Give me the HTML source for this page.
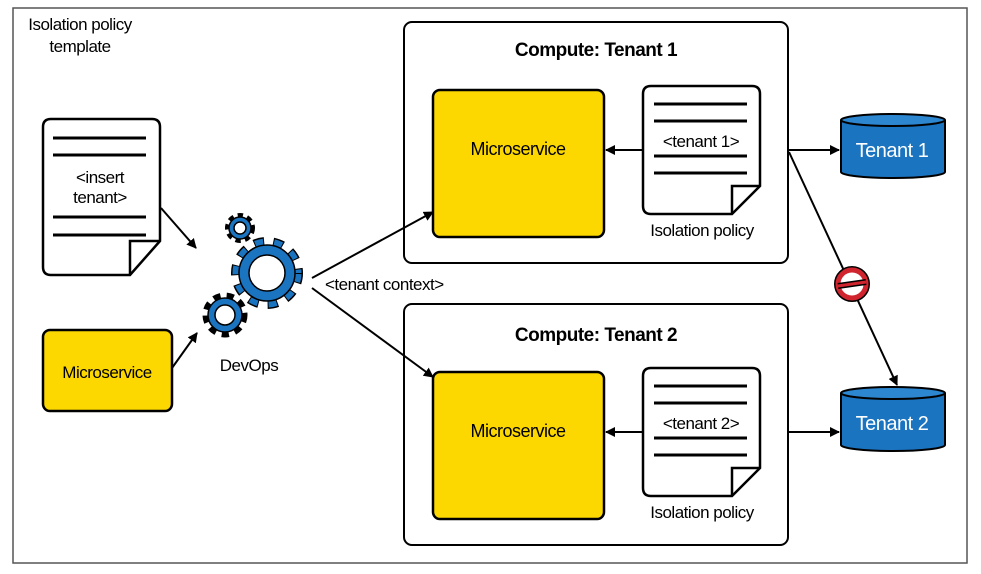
<!DOCTYPE html>
<html><head><style>body{margin:0;background:#fff}svg{display:block}text{font-family:"Liberation Sans",sans-serif}</style></head><body>
<svg width="981" height="574" viewBox="0 0 981 574" xmlns="http://www.w3.org/2000/svg">
<defs><marker id="a" markerWidth="10" markerHeight="10" refX="9" refY="5" orient="auto" markerUnits="userSpaceOnUse"><path d="M0,0 L10,5 L0,10 z" fill="#000"/></marker></defs>
<rect x="13" y="8" width="954" height="555" fill="#fff" stroke="#555" stroke-width="1.5"/>
<text x="80" y="30" font-size="17" text-anchor="middle" letter-spacing="-0.5">Isolation policy</text>
<text x="80" y="52" font-size="17" text-anchor="middle" letter-spacing="-0.5">template</text>
<!-- left doc -->
<path d="M51,119 H152 Q160,119 160,127 V241 L130,275 H51 Q43,275 43,267 V127 Q43,119 51,119 Z" fill="#fff" stroke="#000" stroke-width="2.5"/>
<path d="M130,275 V241 H160" fill="none" stroke="#000" stroke-width="2.5"/>
<g stroke="#000" stroke-width="3"><line x1="53" y1="138" x2="146" y2="138"/><line x1="53" y1="155" x2="146" y2="155"/><line x1="53" y1="217" x2="146" y2="217"/><line x1="53" y1="235" x2="146" y2="235"/></g>
<text x="100" y="183" font-size="17" text-anchor="middle" letter-spacing="-0.5">&lt;insert</text>
<text x="100" y="203" font-size="17" text-anchor="middle" letter-spacing="-0.5">tenant&gt;</text>
<rect x="43" y="330" width="129" height="81" rx="7" fill="#fcd800" stroke="#000" stroke-width="2.5"/>
<text x="107" y="378" font-size="17" text-anchor="middle" letter-spacing="-0.5">Microservice</text>
<line x1="161" y1="208" x2="196" y2="248" stroke="#000" stroke-width="2" marker-end="url(#a)"/>
<line x1="172" y1="368" x2="197" y2="333" stroke="#000" stroke-width="2" marker-end="url(#a)"/>
<!-- gears -->
<g fill="#1b74c0" stroke="#000" stroke-width="1.5">
<circle cx="267" cy="273" r="31" fill="none" stroke="#000" stroke-width="10" stroke-dasharray="10 9"/>
<circle cx="267" cy="273" r="31" fill="none" stroke="#1b74c0" stroke-width="7" stroke-dasharray="8 11" stroke-dashoffset="-1"/>
<circle cx="267" cy="273" r="28"/><circle cx="267" cy="273" r="18" fill="#fff"/>
<circle cx="240" cy="228" r="12" fill="none" stroke="#000" stroke-width="6" stroke-dasharray="5 4"/>
<circle cx="240" cy="228" r="11"/><circle cx="240" cy="228" r="6" fill="#fff"/>
<circle cx="225" cy="315" r="19" fill="none" stroke="#000" stroke-width="7" stroke-dasharray="7 6"/>
<circle cx="225" cy="315" r="17"/><circle cx="225" cy="315" r="10" fill="#fff"/>
</g>
<text x="249" y="371" font-size="17" text-anchor="middle" letter-spacing="-0.5">DevOps</text>
<text x="325" y="290" font-size="17" letter-spacing="-0.5">&lt;tenant context&gt;</text>
<!-- compute boxes -->
<g id="c">
<rect x="404" y="22" width="384" height="241" rx="8" fill="#fff" stroke="#000" stroke-width="2"/>
<rect x="433" y="90" width="171" height="147" rx="7" fill="#fcd800" stroke="#000" stroke-width="2.5"/>
<path d="M651,86 H752 Q760,86 760,94 V186 L732,214 H651 Q643,214 643,206 V94 Q643,86 651,86 Z" fill="#fff" stroke="#000" stroke-width="2.5"/>
<path d="M732,214 V186 H760" fill="none" stroke="#000" stroke-width="2.5"/>
<g stroke="#000" stroke-width="3"><line x1="654" y1="104" x2="747" y2="104"/><line x1="654" y1="121" x2="747" y2="121"/><line x1="654" y1="156" x2="747" y2="156"/><line x1="654" y1="173" x2="747" y2="173"/></g>
<line x1="643" y1="150" x2="606" y2="150" stroke="#000" stroke-width="2" marker-end="url(#a)"/>
<text x="518" y="155" font-size="18" text-anchor="middle" letter-spacing="-0.5">Microservice</text>
</g>
<use href="#c" transform="translate(0,282)"/>
<line x1="312" y1="278" x2="433" y2="212" stroke="#000" stroke-width="2" marker-end="url(#a)"/>
<line x1="312" y1="288" x2="433" y2="377" stroke="#000" stroke-width="2" marker-end="url(#a)"/>
<text x="596" y="56" font-size="19" font-weight="bold" text-anchor="middle" letter-spacing="-0.5">Compute: Tenant 1</text>
<text x="596" y="341" font-size="19" font-weight="bold" text-anchor="middle" letter-spacing="-0.5">Compute: Tenant 2</text>
<text x="701" y="147" font-size="17" text-anchor="middle" letter-spacing="-0.5">&lt;tenant 1&gt;</text>
<text x="701" y="429" font-size="17" text-anchor="middle" letter-spacing="-0.5">&lt;tenant 2&gt;</text>
<text x="702" y="236" font-size="17" text-anchor="middle" letter-spacing="-0.5">Isolation policy</text>
<text x="702" y="518" font-size="17" text-anchor="middle" letter-spacing="-0.5">Isolation policy</text>
<!-- cylinders -->
<g stroke="#000" stroke-width="2">
<path d="M841,120 V172 A52,6 0 0 0 945,172 V120" fill="#1b74c0"/><ellipse cx="893" cy="120" rx="52" ry="6" fill="#2d86d0"/>
<path d="M841,393 V445 A52,6 0 0 0 945,445 V393" fill="#1b74c0"/><ellipse cx="893" cy="393" rx="52" ry="6" fill="#2d86d0"/>
</g>
<text x="892" y="157" font-size="20" fill="#fff" text-anchor="middle" letter-spacing="-0.5">Tenant 1</text>
<text x="892" y="430" font-size="20" fill="#fff" text-anchor="middle" letter-spacing="-0.5">Tenant 2</text>
<line x1="789" y1="150" x2="839" y2="150" stroke="#000" stroke-width="2" marker-end="url(#a)"/>
<line x1="789" y1="432" x2="839" y2="432" stroke="#000" stroke-width="2" marker-end="url(#a)"/>
<line x1="789" y1="152" x2="897" y2="385" stroke="#000" stroke-width="2" marker-end="url(#a)"/>
<circle cx="852" cy="284" r="17" fill="#fff" stroke="#000" stroke-width="2"/>
<circle cx="852" cy="284" r="14" fill="none" stroke="#d0252f" stroke-width="5"/>
<line x1="838" y1="286" x2="866" y2="282" stroke="#000" stroke-width="6"/>
<line x1="838" y1="286" x2="866" y2="282" stroke="#d0252f" stroke-width="3"/>
</svg>
</body></html>
